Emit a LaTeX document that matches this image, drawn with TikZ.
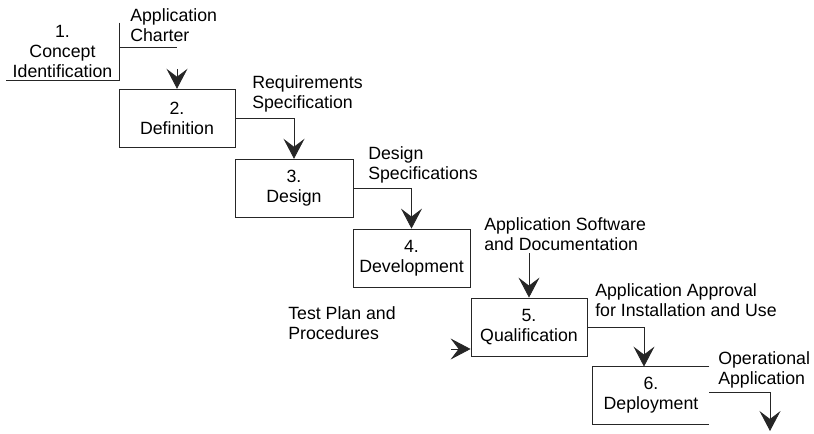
\documentclass[tikz,border=0pt]{standalone}
\usepackage{fontspec}
\setmainfont{Liberation Sans}
\usetikzlibrary{arrows.meta}

\begin{document}
\begin{tikzpicture}[x=0.75pt,y=-0.75pt,
  every node/.style={font=\fontsize{13.3}{15}\selectfont, inner sep=0pt},
  ln/.style={draw=black!85, line width=0.6pt},
  stage/.style={ln, align=center, minimum width=87pt, minimum height=44pt},
  openstage/.style={align=center, minimum width=87pt, minimum height=43pt},
  lbl/.style={align=left, anchor=west},
  chev/.style={ln, -{Stealth[length=15pt, width=15.75pt, inset=6pt]}}
]
\useasboundingbox (0,0) rectangle (814,433);

% phase 1: open frame (bottom and right edges only)
\node[align=center, minimum width=84.75pt, minimum height=42.75pt] (b1) at (62.5,51.5)
  {1.\\Concept\\Identification};
\draw[ln] (b1.north east) -- (b1.south east) -- (b1.south west);

% phases 2 to 5
\node[stage] (b2) at (177,118.5) {2.\\Definition};
\node[stage, minimum width=88.5pt] (b3) at (294,188.5) {3.\\Design};
\node[stage, minimum width=87.75pt, minimum height=43.5pt] (b4) at (411.5,258) {4.\\Development};
\node[stage, minimum height=43.5pt] (b5) at (529,327) {5.\\Qualification};

% phase 6: frame open on the right
\node[openstage] (b6) at (651,395.5) {6.\\Deployment};
\draw[ln] (b6.north east) -- (b6.north west) -- (b6.south west) -- (b6.south east);

% deliverables
\node[lbl] (l1) at (130,25) {Application\\Charter};
\node[lbl] (l2) at (252,94) {Requirements\\Specification};
\node[lbl] (l3) at (368,165) {Design\\Specifications};
\node[lbl] (l4) at (484,234) {Application Software\\and Documentation};
\node[lbl] (l5) at (288,323.5) {Test Plan and\\Procedures};
\node[lbl] (l6) at (595,300) {Application Approval\\for Installation and Use};
\node[lbl] (l7) at (718,370) {Operational\\Application};

% connectors
\coordinate (c1) at (177,47);
\draw[ln] (b1.east |- c1) -- (c1);
\coordinate (a1) at (177,69);
\draw[chev] (a1) -- (b2.north);

\draw[chev] (b2.east) -| (b3.north);
\draw[chev] (b3.east) -| (b4.north);

\coordinate (c4) at (529,253);
\draw[chev] (c4) -- (b5.north);

\coordinate (c5) at (451,349);
\draw[chev] (c5) -- (c5 -| b5.west);

\draw[chev] (b5.east) -| ([xshift=-5.25pt]b6.north);

\coordinate (c6) at (770,431);
\draw[chev] ([yshift=2.5pt]b6.east) -| (c6);
\end{tikzpicture}
\end{document}
